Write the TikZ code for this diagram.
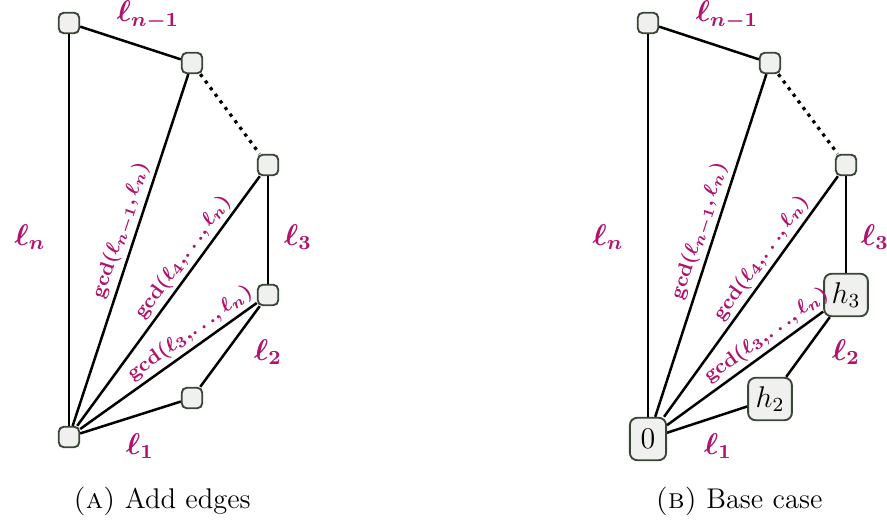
\documentclass[tikz,border=0pt]{standalone}
\usepackage{amsmath}
\usepackage{bm}
\definecolor{lbl}{RGB}{176,18,110}
\definecolor{nborder}{RGB}{58,70,54}
\definecolor{nfill}{RGB}{240,240,238}
\newcommand{\tdots}{\!\ldots\!}
\begin{document}
\begin{tikzpicture}[x=0.4pt,y=-0.4pt,
  vtx/.style={draw=nborder,fill=nfill,line width=0.75pt,rounded corners=2pt,minimum size=8.2pt,inner sep=0pt},
  bigvtx/.style={draw=nborder,fill=nfill,line width=0.75pt,rounded corners=3pt,minimum height=17pt,minimum width=14.5pt,inner sep=3pt,font=\large},
  edge/.style={line width=1pt,black},
  dotedge/.style={line width=1.3pt,black,dotted},
  elbl/.style={text=lbl,font=\large\boldmath},
  glbl/.style={text=lbl,font=\footnotesize\boldmath,sloped,above,inner sep=1.5pt},
  capt/.style={font=\fontsize{11.4}{13}\selectfont}]
\useasboundingbox (0,0) rectangle (887,525);
% ---------- left panel ----------
\begin{scope}
\node[vtx] (A) at (69,23) {};
\node[vtx] (B) at (192,63) {};
\node[vtx] (C) at (268,165) {};
\node[vtx] (D) at (268,295) {};
\node[vtx] (E) at (192,398) {};
\node[vtx] (O) at (69,437) {};
\draw[edge] (O) -- (A);
\draw[edge] (A) -- (B);
\draw[dotedge] (B) -- (C);
\draw[edge] (C) -- (D);
\draw[edge] (D) -- (E);
\draw[edge] (E) -- (O);
\draw[edge] (O) -- (B);
\draw[edge] (O) -- (C);
\draw[edge] (O) -- (D);
\path (O.center) -- (B.center) node[glbl,pos=0.54] (g1) {$\gcd(\ell_{n-1},\ell_n)$};
\path (O.center) -- (C.center) node[glbl,pos=0.63] (g2) {$\gcd(\ell_4,\tdots,\ell_n)$};
\path (O.center) -- (D.center) node[glbl,pos=0.65] (g3) {$\gcd(\ell_3,\tdots,\ell_n)$};
\node[elbl] (la1) at (148,15) {$\ell_{n-1}$};
\node[elbl] (lan) at (30,237) {$\ell_n$};
\node[elbl] (la3) at (298,237) {$\ell_3$};
\node[elbl] (la2) at (268,352) {$\ell_2$};
\node[elbl] (lal) at (140,446) {$\ell_1$};
\node[capt] (capa) at (162,501) {\textsc{(a)} Add edges};
\end{scope}
% ---------- right panel ----------
\begin{scope}
\node[vtx] (rA) at (648,23) {};
\node[vtx] (rB) at (770,63) {};
\node[vtx] (rC) at (846,165) {};
\node[bigvtx] (rH3) at (846,295) {$h_3$};
\node[bigvtx] (rH2) at (770,399) {$h_2$};
\node[bigvtx] (rO) at (648,439) {$0$};
\draw[edge] (rO) -- (rA);
\draw[edge] (rA) -- (rB);
\draw[dotedge] (rB) -- (rC);
\draw[edge] (rC) -- (rH3);
\draw[edge] (rH3) -- (rH2);
\draw[edge] (rH2) -- (rO);
\draw[edge] (rO) -- (rB);
\draw[edge] (rO) -- (rC);
\draw[edge] (rO) -- (rH3);
\path (rO.center) -- (rB.center) node[glbl,pos=0.54] (rg1) {$\gcd(\ell_{n-1},\ell_n)$};
\path (rO.center) -- (rC.center) node[glbl,pos=0.63] (rg2) {$\gcd(\ell_4,\tdots,\ell_n)$};
\path (rO.center) -- (rH3.center) node[glbl,pos=0.64] (rg3) {$\gcd(\ell_3,\tdots,\ell_n)$};
\node[elbl] (rl1) at (727,15) {$\ell_{n-1}$};
\node[elbl] (rln) at (608,237) {$\ell_n$};
\node[elbl] (rl3) at (875,237) {$\ell_3$};
\node[elbl] (rl2) at (846,352) {$\ell_2$};
\node[elbl] (rll) at (718,446) {$\ell_1$};
\node[capt] (capb) at (739,501) {\textsc{(b)} Base case};
\end{scope}
\end{tikzpicture}
\end{document}
